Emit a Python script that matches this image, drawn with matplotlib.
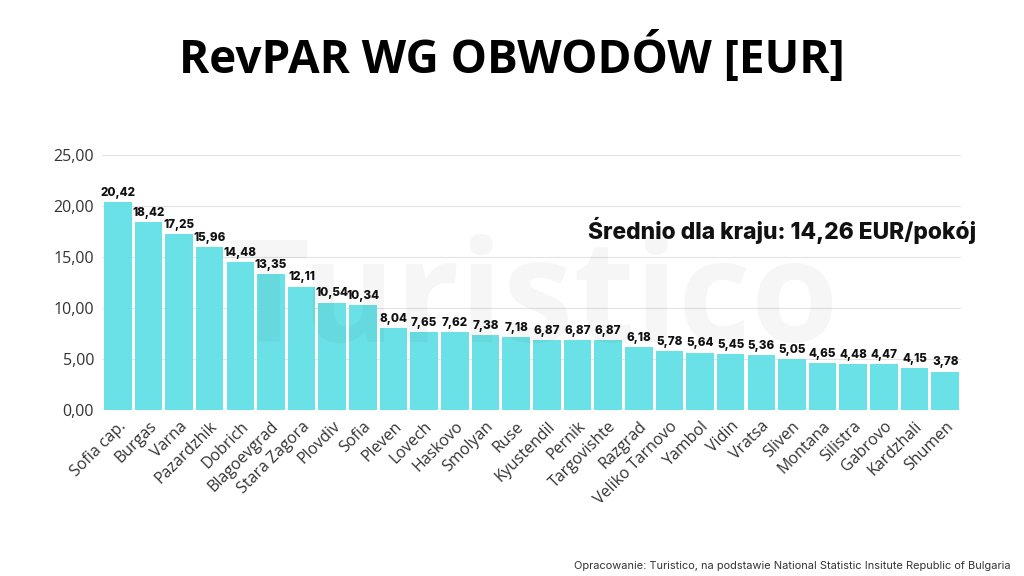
import numpy as np
import matplotlib.pyplot as plt

# dane z wykresu
regions = ['Sofia cap.', 'Burgas', 'Varna', 'Pazardzhik', 'Dobrich', 'Blagoevgrad',
           'Stara Zagora', 'Plovdiv', 'Sofia', 'Pleven', 'Lovech', 'Haskovo', 'Smolyan',
           'Ruse', 'Kyustendil', 'Pernik', 'Targovishte', 'Razgrad', 'Veliko Tarnovo',
           'Yambol', 'Vidin', 'Vratsa', 'Sliven', 'Montana', 'Silistra', 'Gabrovo',
           'Kardzhali', 'Shumen']
revpar = [20.42, 18.42, 17.25, 15.96, 14.48, 13.35, 12.11, 10.54, 10.34, 8.04, 7.65,
          7.62, 7.38, 7.18, 6.87, 6.87, 6.87, 6.18, 5.78, 5.64, 5.45, 5.36, 5.05, 4.65,
          4.48, 4.47, 4.15, 3.78]
y_ticks = [0, 5, 10, 15, 20, 25]
average = 14.26


def pl(v):
    return f'{v:.2f}'.replace('.', ',')


fig = plt.figure(figsize=(10.24, 5.76), dpi=100)
ax = fig.add_axes([0.1, 0.288, 0.838, 0.443])

x = np.arange(len(regions))
ax.bar(x, revpar, width=0.9, color='#6ae1e7', zorder=2)

for xi, v in zip(x, revpar):
    ax.text(xi, v + 0.3, pl(v), ha='center', va='bottom', fontsize=8.4,
            fontweight='heavy', family='Inter', color='#111111', zorder=3)

ax.set_xlim(-0.5, len(regions) - 0.5)
ax.set_ylim(0, 25)
ax.set_yticks(y_ticks)
ax.set_yticklabels([pl(t) for t in y_ticks], family='Open Sans', fontsize=11.5, color='#333333')
ax.set_xticks(x)
ax.set_xticklabels(regions, rotation=45, ha='right', rotation_mode='anchor',
                   family='Open Sans', fontsize=11.5, color='#333333')
ax.tick_params(length=0, pad=6)
ax.grid(axis='y', color='#e3e3e3', linewidth=0.8, zorder=0)
for s in ax.spines.values():
    s.set_visible(False)

fig.text(0.953, 0.6, f'Średnio dla kraju: {pl(average)} EUR/pokój', ha='right', va='center',
         fontsize=16.4, fontweight='heavy', family='Inter', color='#111111', zorder=4)

# znak wodny
fig.text(0.52, 0.47, 'Turistico', ha='center', va='center', fontsize=102, fontweight='bold',
         family='Open Sans', color='#000000', alpha=0.035, zorder=10)

fig.text(0.5, 0.9, 'RevPAR WG OBWODÓW [EUR]', ha='center', va='center', fontsize=33,
         fontweight='bold', family='Open Sans', color='#000000')
fig.text(0.987, 0.018, 'Opracowanie: Turistico, na podstawie National Statistic Insitute Republic of Bulgaria',
         ha='right', va='center', fontsize=7.9, family='Inter', color='#333333')

fig.savefig('out.png', dpi=100, facecolor='white')
